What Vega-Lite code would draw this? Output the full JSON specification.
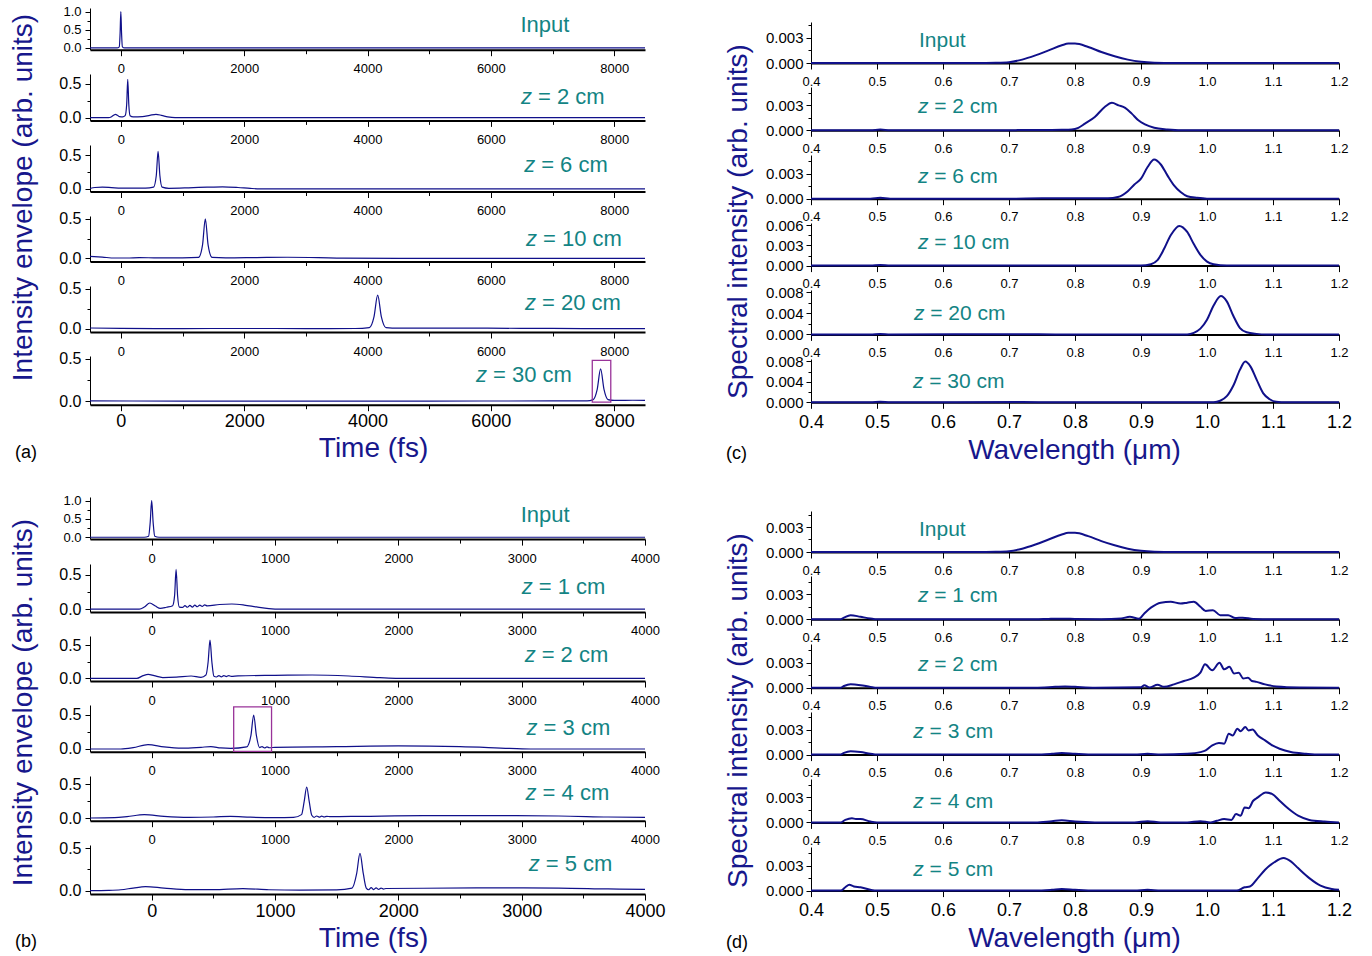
{
  "$schema": "https://vega.github.io/schema/vega-lite/v6.json",
  "padding": {"left": 8, "top": 5, "right": 5, "bottom": 2},
  "config": {
    "view": {"stroke": null},
    "font": "Liberation Sans",
    "axis": {"grid": false, "domainColor": "#000", "tickColor": "#000", "labelColor": "#000", "labelFont": "Liberation Sans", "titleFont": "Liberation Sans", "titleFontWeight": "normal", "titleColor": "#17178c", "titleFontSize": 28, "labelFlush": false, "labelOverlap": false, "tickWidth": 1},
    "axisX": {"domainWidth": 2, "labelPadding": 7, "labelFontSize": 13},
    "axisY": {"domainWidth": 1, "labelPadding": 4, "labelFontSize": 16, "tickSize": 5},
    "text": {"font": "Liberation Sans", "color": "#138484", "align": "left", "baseline": "middle", "fontSize": 22},
    "title": {"font": "Liberation Sans", "fontWeight": "normal", "fontSize": 18, "color": "#000"}
  },
  "datasets": {
    "a_in": [{"t":-500,"v":0},{"t":-60,"v":0},{"t":-25,"v":0.03},{"t":-12,"v":0.4},{"t":0,"v":1.0},{"t":12,"v":0.4},{"t":25,"v":0.03},{"t":60,"v":0},{"t":8500,"v":0}],
    "a_z2": [{"t":-500,"v":0},{"t":-200,"v":0},{"t":-150,"v":0.015},{"t":-110,"v":0.04},{"t":-85,"v":0.05},{"t":-55,"v":0.035},{"t":-20,"v":0.015},{"t":30,"v":0.012},{"t":70,"v":0.03},{"t":95,"v":0.2},{"t":112,"v":0.57},{"t":129,"v":0.2},{"t":150,"v":0.03},{"t":200,"v":0.012},{"t":350,"v":0.015},{"t":470,"v":0.035},{"t":570,"v":0.05},{"t":660,"v":0.035},{"t":760,"v":0.012},{"t":880,"v":0},{"t":8500,"v":0}],
    "a_z6": [{"t":-500,"v":0.005},{"t":-420,"v":0.02},{"t":-300,"v":0.025},{"t":-150,"v":0.018},{"t":0,"v":0.01},{"t":200,"v":0.012},{"t":400,"v":0.01},{"t":530,"v":0.025},{"t":575,"v":0.2},{"t":604,"v":0.56},{"t":633,"v":0.2},{"t":670,"v":0.025},{"t":780,"v":0.008},{"t":1100,"v":0.015},{"t":1400,"v":0.025},{"t":1650,"v":0.03},{"t":1900,"v":0.02},{"t":2100,"v":0.006},{"t":2250,"v":0},{"t":8500,"v":0}],
    "a_z10": [{"t":-500,"v":0.025},{"t":-300,"v":0.015},{"t":-100,"v":0.004},{"t":100,"v":0.004},{"t":300,"v":0.01},{"t":600,"v":0.005},{"t":1000,"v":0.006},{"t":1260,"v":0.012},{"t":1325,"v":0.17},{"t":1370,"v":0.5},{"t":1415,"v":0.17},{"t":1480,"v":0.012},{"t":1700,"v":0.006},{"t":2200,"v":0.01},{"t":2700,"v":0.014},{"t":3200,"v":0.01},{"t":3600,"v":0.003},{"t":4500,"v":0},{"t":8500,"v":0}],
    "a_z20": [{"t":-500,"v":0.01},{"t":0,"v":0.005},{"t":1000,"v":0.003},{"t":2000,"v":0.004},{"t":3000,"v":0.003},{"t":3800,"v":0.004},{"t":4030,"v":0.015},{"t":4105,"v":0.15},{"t":4165,"v":0.42},{"t":4225,"v":0.15},{"t":4300,"v":0.015},{"t":4500,"v":0.008},{"t":5500,"v":0.008},{"t":6500,"v":0.006},{"t":7500,"v":0.003},{"t":8500,"v":0.002}],
    "a_z30": [{"t":-500,"v":0.005},{"t":1000,"v":0.003},{"t":3000,"v":0.003},{"t":5000,"v":0.003},{"t":7000,"v":0.004},{"t":7560,"v":0.005},{"t":7660,"v":0.02},{"t":7725,"v":0.14},{"t":7780,"v":0.38},{"t":7835,"v":0.14},{"t":7900,"v":0.02},{"t":8000,"v":0.01},{"t":8300,"v":0.012},{"t":8500,"v":0.01}],
    "b_in": [{"t":-500,"v":0},{"t":-60,"v":0},{"t":-25,"v":0.03},{"t":-12,"v":0.4},{"t":0,"v":1.0},{"t":12,"v":0.4},{"t":25,"v":0.03},{"t":60,"v":0},{"t":4000,"v":0}],
    "b_z1": [{"t":-500,"v":0},{"t":-100,"v":0},{"t":-60,"v":0.03},{"t":-15,"v":0.09},{"t":30,"v":0.045},{"t":70,"v":0.012},{"t":120,"v":0.028},{"t":170,"v":0.05},{"t":186,"v":0.2},{"t":198,"v":0.58},{"t":210,"v":0.2},{"t":225,"v":0.03},{"t":250,"v":0.025},{"t":270,"v":0.05},{"t":290,"v":0.028},{"t":310,"v":0.055},{"t":330,"v":0.03},{"t":350,"v":0.058},{"t":370,"v":0.035},{"t":390,"v":0.06},{"t":410,"v":0.04},{"t":430,"v":0.062},{"t":450,"v":0.048},{"t":550,"v":0.068},{"t":650,"v":0.075},{"t":750,"v":0.06},{"t":850,"v":0.032},{"t":950,"v":0.008},{"t":1050,"v":0},{"t":4000,"v":0}],
    "b_z2": [{"t":-500,"v":0},{"t":-120,"v":0},{"t":-70,"v":0.04},{"t":-28,"v":0.06},{"t":20,"v":0.04},{"t":90,"v":0.012},{"t":200,"v":0.018},{"t":320,"v":0.035},{"t":400,"v":0.015},{"t":440,"v":0.05},{"t":458,"v":0.25},{"t":473,"v":0.575},{"t":488,"v":0.25},{"t":505,"v":0.03},{"t":525,"v":0.02},{"t":545,"v":0.04},{"t":565,"v":0.022},{"t":585,"v":0.042},{"t":605,"v":0.025},{"t":625,"v":0.042},{"t":645,"v":0.03},{"t":700,"v":0.038},{"t":1000,"v":0.045},{"t":1300,"v":0.05},{"t":1600,"v":0.035},{"t":1850,"v":0.01},{"t":2000,"v":0},{"t":4000,"v":0}],
    "b_z3": [{"t":-500,"v":0},{"t":-250,"v":0},{"t":-150,"v":0.02},{"t":-30,"v":0.065},{"t":100,"v":0.03},{"t":250,"v":0.012},{"t":400,"v":0.025},{"t":480,"v":0.034},{"t":560,"v":0.015},{"t":640,"v":0.008},{"t":770,"v":0.03},{"t":805,"v":0.2},{"t":827,"v":0.5},{"t":849,"v":0.2},{"t":875,"v":0.02},{"t":895,"v":0.035},{"t":915,"v":0.015},{"t":935,"v":0.03},{"t":955,"v":0.018},{"t":1000,"v":0.025},{"t":1500,"v":0.035},{"t":2000,"v":0.045},{"t":2500,"v":0.035},{"t":2900,"v":0.01},{"t":3100,"v":0},{"t":4000,"v":0}],
    "b_z4": [{"t":-500,"v":0},{"t":-300,"v":0.005},{"t":-200,"v":0.02},{"t":-60,"v":0.05},{"t":100,"v":0.025},{"t":300,"v":0.01},{"t":500,"v":0.015},{"t":640,"v":0.025},{"t":800,"v":0.012},{"t":1000,"v":0.005},{"t":1150,"v":0.008},{"t":1215,"v":0.05},{"t":1237,"v":0.25},{"t":1257,"v":0.46},{"t":1277,"v":0.25},{"t":1298,"v":0.04},{"t":1318,"v":0.01},{"t":1338,"v":0.03},{"t":1358,"v":0.012},{"t":1378,"v":0.028},{"t":1398,"v":0.015},{"t":1420,"v":0.025},{"t":1450,"v":0.02},{"t":1700,"v":0.025},{"t":2200,"v":0.035},{"t":2800,"v":0.035},{"t":3300,"v":0.03},{"t":3700,"v":0.015},{"t":4000,"v":0.008}],
    "b_z5": [{"t":-500,"v":0},{"t":-350,"v":0.003},{"t":-250,"v":0.01},{"t":-150,"v":0.03},{"t":-50,"v":0.047},{"t":100,"v":0.03},{"t":300,"v":0.012},{"t":500,"v":0.012},{"t":740,"v":0.024},{"t":950,"v":0.01},{"t":1200,"v":0.005},{"t":1500,"v":0.008},{"t":1625,"v":0.03},{"t":1662,"v":0.2},{"t":1689,"v":0.44},{"t":1716,"v":0.2},{"t":1740,"v":0.03},{"t":1760,"v":0.01},{"t":1780,"v":0.035},{"t":1800,"v":0.012},{"t":1820,"v":0.033},{"t":1840,"v":0.014},{"t":1860,"v":0.03},{"t":1880,"v":0.018},{"t":1900,"v":0.025},{"t":2200,"v":0.028},{"t":2800,"v":0.032},{"t":3300,"v":0.03},{"t":3700,"v":0.02},{"t":4000,"v":0.015}],
    "s_in": [{"w":0.4,"s":0},{"w":0.65,"s":0},{"w":0.68,"s":0.00003},{"w":0.7,"s":0.0001},{"w":0.72,"s":0.0004},{"w":0.74,"s":0.0009},{"w":0.76,"s":0.0015},{"w":0.78,"s":0.0021},{"w":0.79,"s":0.0023},{"w":0.8,"s":0.0023},{"w":0.82,"s":0.0019},{"w":0.84,"s":0.0013},{"w":0.86,"s":0.0008},{"w":0.88,"s":0.0004},{"w":0.9,"s":0.00015},{"w":0.92,"s":0.00004},{"w":0.95,"s":0},{"w":1.2,"s":0}],
    "c_z2": [{"w":0.4,"s":0},{"w":0.49,"s":0},{"w":0.505,"s":0.0001},{"w":0.52,"s":0},{"w":0.7,"s":0},{"w":0.72,"s":0.00004},{"w":0.75,"s":0.00003},{"w":0.78,"s":0.00006},{"w":0.795,"s":0.0001},{"w":0.805,"s":0.0003},{"w":0.815,"s":0.0008},{"w":0.83,"s":0.0016},{"w":0.845,"s":0.0028},{"w":0.856,"s":0.0033},{"w":0.866,"s":0.003},{"w":0.876,"s":0.0027},{"w":0.886,"s":0.002},{"w":0.896,"s":0.0012},{"w":0.906,"s":0.0007},{"w":0.92,"s":0.0003},{"w":0.94,"s":0.0001},{"w":0.96,"s":0},{"w":1.2,"s":0}],
    "c_z6": [{"w":0.4,"s":0},{"w":0.49,"s":0},{"w":0.505,"s":0.0001},{"w":0.52,"s":0},{"w":0.7,"s":0},{"w":0.75,"s":0.00004},{"w":0.85,"s":0.00005},{"w":0.865,"s":0.0002},{"w":0.88,"s":0.0009},{"w":0.89,"s":0.0017},{"w":0.9,"s":0.0024},{"w":0.91,"s":0.0038},{"w":0.92,"s":0.0047},{"w":0.93,"s":0.0041},{"w":0.94,"s":0.0028},{"w":0.95,"s":0.0016},{"w":0.96,"s":0.0008},{"w":0.97,"s":0.0003},{"w":0.985,"s":0.0001},{"w":1.0,"s":0},{"w":1.2,"s":0}],
    "c_z10": [{"w":0.4,"s":0},{"w":0.49,"s":0},{"w":0.505,"s":0.0001},{"w":0.52,"s":0},{"w":0.9,"s":0},{"w":0.915,"s":0.0002},{"w":0.925,"s":0.0008},{"w":0.935,"s":0.0025},{"w":0.945,"s":0.0045},{"w":0.958,"s":0.0059},{"w":0.97,"s":0.005},{"w":0.98,"s":0.0032},{"w":0.99,"s":0.0016},{"w":1.0,"s":0.0006},{"w":1.01,"s":0.0002},{"w":1.03,"s":0},{"w":1.2,"s":0}],
    "c_z20": [{"w":0.4,"s":0},{"w":0.49,"s":0},{"w":0.505,"s":0.0001},{"w":0.52,"s":0},{"w":0.72,"s":0.00004},{"w":0.77,"s":0},{"w":0.97,"s":0},{"w":0.98,"s":0.0003},{"w":0.99,"s":0.0011},{"w":1.0,"s":0.0028},{"w":1.01,"s":0.0055},{"w":1.021,"s":0.0073},{"w":1.03,"s":0.0063},{"w":1.04,"s":0.0035},{"w":1.05,"s":0.0012},{"w":1.06,"s":0.0004},{"w":1.075,"s":0.0001},{"w":1.09,"s":0},{"w":1.2,"s":0}],
    "c_z30": [{"w":0.4,"s":0},{"w":0.49,"s":0},{"w":0.505,"s":0.0001},{"w":0.52,"s":0},{"w":0.72,"s":0.00004},{"w":0.77,"s":0},{"w":1.01,"s":0},{"w":1.02,"s":0.0003},{"w":1.03,"s":0.0012},{"w":1.04,"s":0.0033},{"w":1.05,"s":0.0064},{"w":1.058,"s":0.008},{"w":1.066,"s":0.007},{"w":1.075,"s":0.0045},{"w":1.085,"s":0.0018},{"w":1.095,"s":0.0006},{"w":1.105,"s":0.0001},{"w":1.12,"s":0},{"w":1.2,"s":0}],
    "d_z1": [{"w":0.4,"s":0},{"w":0.445,"s":0},{"w":0.45,"s":0.0002},{"w":0.46,"s":0.0005},{"w":0.475,"s":0.0003},{"w":0.49,"s":0.0001},{"w":0.5,"s":0},{"w":0.74,"s":0},{"w":0.76,"s":0.00005},{"w":0.78,"s":0.00008},{"w":0.8,"s":0.00005},{"w":0.84,"s":0.00002},{"w":0.87,"s":0.0001},{"w":0.883,"s":0.0003},{"w":0.897,"s":0.00008},{"w":0.905,"s":0.0007},{"w":0.915,"s":0.0014},{"w":0.93,"s":0.002},{"w":0.945,"s":0.0021},{"w":0.96,"s":0.0019},{"w":0.97,"s":0.002},{"w":0.98,"s":0.0021},{"w":0.99,"s":0.0015},{"w":0.998,"s":0.001},{"w":1.009,"s":0.0011},{"w":1.02,"s":0.0005},{"w":1.032,"s":0.0005},{"w":1.043,"s":0.00015},{"w":1.054,"s":0.0002},{"w":1.07,"s":0.00005},{"w":1.1,"s":0},{"w":1.2,"s":0}],
    "d_z2": [{"w":0.4,"s":0},{"w":0.445,"s":0},{"w":0.45,"s":0.0002},{"w":0.46,"s":0.0004},{"w":0.475,"s":0.0003},{"w":0.49,"s":0.0001},{"w":0.5,"s":0},{"w":0.74,"s":0},{"w":0.77,"s":0.0001},{"w":0.785,"s":0.00015},{"w":0.8,"s":0.0001},{"w":0.83,"s":0},{"w":0.9,"s":0.00005},{"w":0.905,"s":0.0003},{"w":0.913,"s":0.00003},{"w":0.925,"s":0.00035},{"w":0.935,"s":0.0001},{"w":0.95,"s":0.0004},{"w":0.965,"s":0.0008},{"w":0.98,"s":0.0012},{"w":0.99,"s":0.0018},{"w":0.997,"s":0.0028},{"w":1.008,"s":0.0021},{"w":1.019,"s":0.003},{"w":1.026,"s":0.0022},{"w":1.034,"s":0.0025},{"w":1.041,"s":0.0017},{"w":1.048,"s":0.0018},{"w":1.055,"s":0.0011},{"w":1.062,"s":0.0012},{"w":1.068,"s":0.0008},{"w":1.075,"s":0.0007},{"w":1.088,"s":0.0004},{"w":1.105,"s":0.00015},{"w":1.14,"s":0.00003},{"w":1.2,"s":0}],
    "d_z3": [{"w":0.4,"s":0},{"w":0.445,"s":0},{"w":0.45,"s":0.0002},{"w":0.46,"s":0.0004},{"w":0.475,"s":0.0003},{"w":0.49,"s":0.0001},{"w":0.5,"s":0},{"w":0.74,"s":0},{"w":0.765,"s":0.0001},{"w":0.78,"s":0.0002},{"w":0.8,"s":0.0001},{"w":0.83,"s":0},{"w":0.89,"s":0},{"w":0.91,"s":0.0001},{"w":0.93,"s":0},{"w":0.97,"s":0.0001},{"w":0.99,"s":0.0003},{"w":0.998,"s":0.0005},{"w":1.008,"s":0.0011},{"w":1.018,"s":0.0014},{"w":1.026,"s":0.0013},{"w":1.033,"s":0.0025},{"w":1.039,"s":0.0023},{"w":1.046,"s":0.0031},{"w":1.051,"s":0.0028},{"w":1.058,"s":0.0033},{"w":1.063,"s":0.0029},{"w":1.069,"s":0.003},{"w":1.077,"s":0.0023},{"w":1.088,"s":0.0017},{"w":1.099,"s":0.0011},{"w":1.11,"s":0.0007},{"w":1.127,"s":0.0003},{"w":1.15,"s":0.0001},{"w":1.17,"s":0},{"w":1.2,"s":0}],
    "d_z4": [{"w":0.4,"s":0},{"w":0.445,"s":0},{"w":0.452,"s":0.0003},{"w":0.462,"s":0.0005},{"w":0.468,"s":0.0004},{"w":0.475,"s":0.0004},{"w":0.49,"s":0.0001},{"w":0.5,"s":0},{"w":0.74,"s":0},{"w":0.765,"s":0.00015},{"w":0.78,"s":0.00025},{"w":0.8,"s":0.0001},{"w":0.83,"s":0},{"w":0.89,"s":0},{"w":0.91,"s":0.00015},{"w":0.93,"s":0},{"w":0.97,"s":0},{"w":0.99,"s":0.00015},{"w":1.005,"s":0},{"w":1.015,"s":0.0002},{"w":1.026,"s":0.0004},{"w":1.037,"s":0.0003},{"w":1.044,"s":0.001},{"w":1.051,"s":0.0008},{"w":1.057,"s":0.0018},{"w":1.063,"s":0.0017},{"w":1.07,"s":0.0026},{"w":1.077,"s":0.003},{"w":1.089,"s":0.0036},{"w":1.099,"s":0.0034},{"w":1.11,"s":0.0026},{"w":1.124,"s":0.0016},{"w":1.138,"s":0.0008},{"w":1.155,"s":0.0003},{"w":1.178,"s":0.0001},{"w":1.2,"s":0}],
    "d_z5": [{"w":0.4,"s":0},{"w":0.445,"s":0},{"w":0.452,"s":0.0004},{"w":0.458,"s":0.0007},{"w":0.465,"s":0.0005},{"w":0.475,"s":0.0004},{"w":0.49,"s":0.0001},{"w":0.5,"s":0},{"w":0.74,"s":0},{"w":0.765,"s":0.0001},{"w":0.78,"s":0.0002},{"w":0.8,"s":0.0001},{"w":0.83,"s":0},{"w":0.89,"s":0},{"w":0.91,"s":0.0001},{"w":0.93,"s":0},{"w":1.045,"s":0},{"w":1.057,"s":0.0004},{"w":1.065,"s":0.0005},{"w":1.077,"s":0.0015},{"w":1.088,"s":0.0025},{"w":1.102,"s":0.0034},{"w":1.116,"s":0.0039},{"w":1.127,"s":0.0035},{"w":1.138,"s":0.0027},{"w":1.155,"s":0.0015},{"w":1.172,"s":0.0006},{"w":1.189,"s":0.0002},{"w":1.2,"s":0.0001}]
  },
  "hconcat": [
    {
      "spacing": 31,
      "vconcat": [
        {
          "title": {"text": "(a)", "orient": "bottom", "anchor": "start", "frame": "bounds", "offset": -19, "dx": 6},
          "bounds": "flush", "spacing": 24,
          "vconcat": [
            {"width": 555, "height": 41.7, "resolve": {"axis": {"y": "independent"}}, "layer": [
              {"data": {"name": "a_in"}, "mark": {"type": "line", "color": "#10108a", "strokeWidth": 1.2, "interpolate": "monotone"},
               "encoding": {
                 "x": {"field": "t", "type": "quantitative", "scale": {"domain": [-500, 8500], "nice": false, "zero": false}, "axis": {"values": [0,1000,2000,3000,4000,5000,6000,7000,8000], "format": "d", "labelExpr": "datum.value % 2000 === 0 ? datum.label : ''", "tickSize": {"condition": {"test": "datum.value % 2000 === 0", "value": 6}, "value": 4}, "title": null}},
                 "y": {"field": "v", "type": "quantitative", "scale": {"domain": [-0.05, 1.1], "nice": false, "zero": false}, "axis": {"values": [0,0.5,1], "format": ".1f", "labelFontSize": 13, "title": "Intensity envelope (arb. units)", "titleX": -53, "titleY": 189}}
               }},
              {"data": {"values": [{"label": "Input"}]}, "mark": {"type": "text"}, "encoding": {"x": {"datum": 6480}, "y": {"datum": 0.62, "axis": {"orient": "left", "values": [0.25,0.75], "labels": false, "domain": false, "tickSize": 3, "title": null}}, "text": {"field": "label"}}}
            ]},
            {"width": 555, "height": 46.4, "resolve": {"axis": {"y": "independent"}}, "layer": [
              {"data": {"name": "a_z2"}, "mark": {"type": "line", "color": "#10108a", "strokeWidth": 1.2, "interpolate": "monotone"},
               "encoding": {
                 "x": {"field": "t", "type": "quantitative", "scale": {"domain": [-500, 8500], "nice": false, "zero": false}, "axis": {"values": [0,1000,2000,3000,4000,5000,6000,7000,8000], "format": "d", "labelExpr": "datum.value % 2000 === 0 ? datum.label : ''", "tickSize": {"condition": {"test": "datum.value % 2000 === 0", "value": 6}, "value": 4}, "title": null}},
                 "y": {"field": "v", "type": "quantitative", "scale": {"domain": [-0.04, 0.648], "nice": false, "zero": false}, "axis": {"values": [0,0.5], "format": ".1f", "title": null}}
               }},
              {"data": {"values": [{"z": "z", "rest": "= 2 cm"}]}, "encoding": {"x": {"datum": 6490}, "y": {"datum": 0.31, "axis": {"orient": "left", "values": [0.25], "labels": false, "domain": false, "tickSize": 3, "title": null}}}, "layer": [
                {"mark": {"type": "text", "fontStyle": "italic"}, "encoding": {"text": {"field": "z"}}},
                {"mark": {"type": "text", "dx": 17}, "encoding": {"text": {"field": "rest"}}}
              ]}
            ]},
            {"width": 555, "height": 46.5, "resolve": {"axis": {"y": "independent"}}, "layer": [
              {"data": {"name": "a_z6"}, "mark": {"type": "line", "color": "#10108a", "strokeWidth": 1.2, "interpolate": "monotone"},
               "encoding": {
                 "x": {"field": "t", "type": "quantitative", "scale": {"domain": [-500, 8500], "nice": false, "zero": false}, "axis": {"values": [0,1000,2000,3000,4000,5000,6000,7000,8000], "format": "d", "labelExpr": "datum.value % 2000 === 0 ? datum.label : ''", "tickSize": {"condition": {"test": "datum.value % 2000 === 0", "value": 6}, "value": 4}, "title": null}},
                 "y": {"field": "v", "type": "quantitative", "scale": {"domain": [-0.04, 0.656], "nice": false, "zero": false}, "axis": {"values": [0,0.5], "format": ".1f", "title": null}}
               }},
              {"data": {"values": [{"z": "z", "rest": "= 6 cm"}]}, "encoding": {"x": {"datum": 6540}, "y": {"datum": 0.35, "axis": {"orient": "left", "values": [0.25], "labels": false, "domain": false, "tickSize": 3, "title": null}}}, "layer": [
                {"mark": {"type": "text", "fontStyle": "italic"}, "encoding": {"text": {"field": "z"}}},
                {"mark": {"type": "text", "dx": 17}, "encoding": {"text": {"field": "rest"}}}
              ]}
            ]},
            {"width": 555, "height": 45.5, "resolve": {"axis": {"y": "independent"}}, "layer": [
              {"data": {"name": "a_z10"}, "mark": {"type": "line", "color": "#10108a", "strokeWidth": 1.2, "interpolate": "monotone"},
               "encoding": {
                 "x": {"field": "t", "type": "quantitative", "scale": {"domain": [-500, 8500], "nice": false, "zero": false}, "axis": {"values": [0,1000,2000,3000,4000,5000,6000,7000,8000], "format": "d", "labelExpr": "datum.value % 2000 === 0 ? datum.label : ''", "tickSize": {"condition": {"test": "datum.value % 2000 === 0", "value": 6}, "value": 4}, "title": null}},
                 "y": {"field": "v", "type": "quantitative", "scale": {"domain": [-0.04, 0.536], "nice": false, "zero": false}, "axis": {"values": [0,0.5], "format": ".1f", "title": null}}
               }},
              {"data": {"values": [{"z": "z", "rest": "= 10 cm"}]}, "encoding": {"x": {"datum": 6570}, "y": {"datum": 0.25, "axis": {"orient": "left", "values": [0.25], "labels": false, "domain": false, "tickSize": 3, "title": null}}}, "layer": [
                {"mark": {"type": "text", "fontStyle": "italic"}, "encoding": {"text": {"field": "z"}}},
                {"mark": {"type": "text", "dx": 17}, "encoding": {"text": {"field": "rest"}}}
              ]}
            ]},
            {"width": 555, "height": 46, "resolve": {"axis": {"y": "independent"}}, "layer": [
              {"data": {"name": "a_z20"}, "mark": {"type": "line", "color": "#10108a", "strokeWidth": 1.2, "interpolate": "monotone"},
               "encoding": {
                 "x": {"field": "t", "type": "quantitative", "scale": {"domain": [-500, 8500], "nice": false, "zero": false}, "axis": {"values": [0,1000,2000,3000,4000,5000,6000,7000,8000], "format": "d", "labelExpr": "datum.value % 2000 === 0 ? datum.label : ''", "tickSize": {"condition": {"test": "datum.value % 2000 === 0", "value": 6}, "value": 4}, "title": null}},
                 "y": {"field": "v", "type": "quantitative", "scale": {"domain": [-0.04, 0.535], "nice": false, "zero": false}, "axis": {"values": [0,0.5], "format": ".1f", "title": null}}
               }},
              {"data": {"values": [{"z": "z", "rest": "= 20 cm"}]}, "encoding": {"x": {"datum": 6555}, "y": {"datum": 0.32, "axis": {"orient": "left", "values": [0.25], "labels": false, "domain": false, "tickSize": 3, "title": null}}}, "layer": [
                {"mark": {"type": "text", "fontStyle": "italic"}, "encoding": {"text": {"field": "z"}}},
                {"mark": {"type": "text", "dx": 17}, "encoding": {"text": {"field": "rest"}}}
              ]}
            ]},
            {"width": 555, "height": 48.7, "resolve": {"axis": {"y": "independent"}}, "layer": [
              {"data": {"name": "a_z30"}, "mark": {"type": "line", "color": "#10108a", "strokeWidth": 1.2, "interpolate": "monotone"},
               "encoding": {
                 "x": {"field": "t", "type": "quantitative", "scale": {"domain": [-500, 8500], "nice": false, "zero": false}, "axis": {"values": [0,1000,2000,3000,4000,5000,6000,7000,8000], "format": "d", "labelExpr": "datum.value % 2000 === 0 ? datum.label : ''", "tickSize": {"condition": {"test": "datum.value % 2000 === 0", "value": 6}, "value": 4}, "labelFontSize": 18, "labelPadding": 2, "title": "Time (fs)", "titleX": 283, "titleY": 30}},
                 "y": {"field": "v", "type": "quantitative", "scale": {"domain": [-0.04, 0.532], "nice": false, "zero": false}, "axis": {"values": [0,0.5], "format": ".1f", "title": null}}
               }},
              {"data": {"values": [{"z": "z", "rest": "= 30 cm"}]}, "encoding": {"x": {"datum": 5760}, "y": {"datum": 0.305, "axis": {"orient": "left", "values": [0.25], "labels": false, "domain": false, "tickSize": 3, "title": null}}}, "layer": [
                {"mark": {"type": "text", "fontStyle": "italic"}, "encoding": {"text": {"field": "z"}}},
                {"mark": {"type": "text", "dx": 17}, "encoding": {"text": {"field": "rest"}}}
              ]},
              {"data": {"values": [{"box": "zoom"}]}, "mark": {"type": "rect", "filled": false, "color": "#993399", "strokeWidth": 1.3}, "encoding": {"x": {"datum": 7645}, "x2": {"datum": 7945}, "y": {"datum": -0.01, "axis": null}, "y2": {"datum": 0.48}}}
            ]}
          ]
        },
        {
          "title": {"text": "(b)", "orient": "bottom", "anchor": "start", "frame": "bounds", "offset": -19, "dx": 6},
          "bounds": "flush", "spacing": 24,
          "vconcat": [
            {"width": 555, "height": 42.1, "resolve": {"axis": {"y": "independent"}}, "layer": [
              {"data": {"name": "b_in"}, "mark": {"type": "line", "color": "#10108a", "strokeWidth": 1.2, "interpolate": "monotone"},
               "encoding": {
                 "x": {"field": "t", "type": "quantitative", "scale": {"domain": [-500, 4000], "nice": false, "zero": false}, "axis": {"values": [0,500,1000,1500,2000,2500,3000,3500,4000], "format": "d", "labelExpr": "datum.value % 1000 === 0 ? datum.label : ''", "tickSize": {"condition": {"test": "datum.value % 1000 === 0", "value": 6}, "value": 4}, "title": null}},
                 "y": {"field": "v", "type": "quantitative", "scale": {"domain": [-0.05, 1.1], "nice": false, "zero": false}, "axis": {"values": [0,0.5,1], "format": ".1f", "labelFontSize": 13, "title": "Intensity envelope (arb. units)", "titleX": -53, "titleY": 205}}
               }},
              {"data": {"values": [{"label": "Input"}]}, "mark": {"type": "text"}, "encoding": {"x": {"datum": 2992}, "y": {"datum": 0.61, "axis": {"orient": "left", "values": [0.25,0.75], "labels": false, "domain": false, "tickSize": 3, "title": null}}, "text": {"field": "label"}}}
            ]},
            {"width": 555, "height": 47.9, "resolve": {"axis": {"y": "independent"}}, "layer": [
              {"data": {"name": "b_z1"}, "mark": {"type": "line", "color": "#10108a", "strokeWidth": 1.2, "interpolate": "monotone"},
               "encoding": {
                 "x": {"field": "t", "type": "quantitative", "scale": {"domain": [-500, 4000], "nice": false, "zero": false}, "axis": {"values": [0,500,1000,1500,2000,2500,3000,3500,4000], "format": "d", "labelExpr": "datum.value % 1000 === 0 ? datum.label : ''", "tickSize": {"condition": {"test": "datum.value % 1000 === 0", "value": 6}, "value": 4}, "title": null}},
                 "y": {"field": "v", "type": "quantitative", "scale": {"domain": [-0.04, 0.658], "nice": false, "zero": false}, "axis": {"values": [0,0.5], "format": ".1f", "title": null}}
               }},
              {"data": {"values": [{"z": "z", "rest": "= 1 cm"}]}, "encoding": {"x": {"datum": 3000}, "y": {"datum": 0.325, "axis": {"orient": "left", "values": [0.25], "labels": false, "domain": false, "tickSize": 3, "title": null}}}, "layer": [
                {"mark": {"type": "text", "fontStyle": "italic"}, "encoding": {"text": {"field": "z"}}},
                {"mark": {"type": "text", "dx": 17}, "encoding": {"text": {"field": "rest"}}}
              ]}
            ]},
            {"width": 555, "height": 45, "resolve": {"axis": {"y": "independent"}}, "layer": [
              {"data": {"name": "b_z2"}, "mark": {"type": "line", "color": "#10108a", "strokeWidth": 1.2, "interpolate": "monotone"},
               "encoding": {
                 "x": {"field": "t", "type": "quantitative", "scale": {"domain": [-500, 4000], "nice": false, "zero": false}, "axis": {"values": [0,500,1000,1500,2000,2500,3000,3500,4000], "format": "d", "labelExpr": "datum.value % 1000 === 0 ? datum.label : ''", "tickSize": {"condition": {"test": "datum.value % 1000 === 0", "value": 6}, "value": 4}, "title": null}},
                 "y": {"field": "v", "type": "quantitative", "scale": {"domain": [-0.04, 0.636], "nice": false, "zero": false}, "axis": {"values": [0,0.5], "format": ".1f", "title": null}}
               }},
              {"data": {"values": [{"z": "z", "rest": "= 2 cm"}]}, "encoding": {"x": {"datum": 3024}, "y": {"datum": 0.35, "axis": {"orient": "left", "values": [0.25], "labels": false, "domain": false, "tickSize": 3, "title": null}}}, "layer": [
                {"mark": {"type": "text", "fontStyle": "italic"}, "encoding": {"text": {"field": "z"}}},
                {"mark": {"type": "text", "dx": 17}, "encoding": {"text": {"field": "rest"}}}
              ]}
            ]},
            {"width": 555, "height": 46.7, "resolve": {"axis": {"y": "independent"}}, "layer": [
              {"data": {"name": "b_z3"}, "mark": {"type": "line", "color": "#10108a", "strokeWidth": 1.2, "interpolate": "monotone"},
               "encoding": {
                 "x": {"field": "t", "type": "quantitative", "scale": {"domain": [-500, 4000], "nice": false, "zero": false}, "axis": {"values": [0,500,1000,1500,2000,2500,3000,3500,4000], "format": "d", "labelExpr": "datum.value % 1000 === 0 ? datum.label : ''", "tickSize": {"condition": {"test": "datum.value % 1000 === 0", "value": 6}, "value": 4}, "title": null}},
                 "y": {"field": "v", "type": "quantitative", "scale": {"domain": [-0.04, 0.647], "nice": false, "zero": false}, "axis": {"values": [0,0.5], "format": ".1f", "title": null}}
               }},
              {"data": {"values": [{"z": "z", "rest": "= 3 cm"}]}, "encoding": {"x": {"datum": 3040}, "y": {"datum": 0.31, "axis": {"orient": "left", "values": [0.25], "labels": false, "domain": false, "tickSize": 3, "title": null}}}, "layer": [
                {"mark": {"type": "text", "fontStyle": "italic"}, "encoding": {"text": {"field": "z"}}},
                {"mark": {"type": "text", "dx": 17}, "encoding": {"text": {"field": "rest"}}}
              ]},
              {"data": {"values": [{"box": "zoom"}]}, "mark": {"type": "rect", "filled": false, "color": "#993399", "strokeWidth": 1.3}, "encoding": {"x": {"datum": 665}, "x2": {"datum": 972}, "y": {"datum": -0.035, "axis": null}, "y2": {"datum": 0.62}}}
            ]},
            {"width": 555, "height": 44.7, "resolve": {"axis": {"y": "independent"}}, "layer": [
              {"data": {"name": "b_z4"}, "mark": {"type": "line", "color": "#10108a", "strokeWidth": 1.2, "interpolate": "monotone"},
               "encoding": {
                 "x": {"field": "t", "type": "quantitative", "scale": {"domain": [-500, 4000], "nice": false, "zero": false}, "axis": {"values": [0,500,1000,1500,2000,2500,3000,3500,4000], "format": "d", "labelExpr": "datum.value % 1000 === 0 ? datum.label : ''", "tickSize": {"condition": {"test": "datum.value % 1000 === 0", "value": 6}, "value": 4}, "title": null}},
                 "y": {"field": "v", "type": "quantitative", "scale": {"domain": [-0.04, 0.623], "nice": false, "zero": false}, "axis": {"values": [0,0.5], "format": ".1f", "title": null}}
               }},
              {"data": {"values": [{"z": "z", "rest": "= 4 cm"}]}, "encoding": {"x": {"datum": 3032}, "y": {"datum": 0.37, "axis": {"orient": "left", "values": [0.25], "labels": false, "domain": false, "tickSize": 3, "title": null}}}, "layer": [
                {"mark": {"type": "text", "fontStyle": "italic"}, "encoding": {"text": {"field": "z"}}},
                {"mark": {"type": "text", "dx": 17}, "encoding": {"text": {"field": "rest"}}}
              ]}
            ]},
            {"width": 555, "height": 49, "resolve": {"axis": {"y": "independent"}}, "layer": [
              {"data": {"name": "b_z5"}, "mark": {"type": "line", "color": "#10108a", "strokeWidth": 1.2, "interpolate": "monotone"},
               "encoding": {
                 "x": {"field": "t", "type": "quantitative", "scale": {"domain": [-500, 4000], "nice": false, "zero": false}, "axis": {"values": [0,500,1000,1500,2000,2500,3000,3500,4000], "format": "d", "labelExpr": "datum.value % 1000 === 0 ? datum.label : ''", "tickSize": {"condition": {"test": "datum.value % 1000 === 0", "value": 6}, "value": 4}, "labelFontSize": 18, "labelPadding": 2, "title": "Time (fs)", "titleX": 283, "titleY": 30}},
                 "y": {"field": "v", "type": "quantitative", "scale": {"domain": [-0.04, 0.539], "nice": false, "zero": false}, "axis": {"values": [0,0.5], "format": ".1f", "title": null}}
               }},
              {"data": {"values": [{"z": "z", "rest": "= 5 cm"}]}, "encoding": {"x": {"datum": 3057}, "y": {"datum": 0.31, "axis": {"orient": "left", "values": [0.25], "labels": false, "domain": false, "tickSize": 3, "title": null}}}, "layer": [
                {"mark": {"type": "text", "fontStyle": "italic"}, "encoding": {"text": {"field": "z"}}},
                {"mark": {"type": "text", "dx": 17}, "encoding": {"text": {"field": "rest"}}}
              ]}
            ]}
          ]
        }
      ]
    },
    {
      "spacing": 13,
      "vconcat": [
        {"width": 528, "height": 1, "data": {"values": []}, "mark": {"type": "point"}},
        {
          "spacing": 46,
          "vconcat": [
            {
              "title": {"text": "(c)", "orient": "bottom", "anchor": "start", "frame": "bounds", "offset": -19, "dx": 2},
              "bounds": "flush", "spacing": 24,
              "vconcat": [
                {"width": 528, "height": 41, "resolve": {"axis": {"y": "independent"}}, "layer": [
                  {"data": {"name": "s_in"}, "mark": {"type": "line", "color": "#10108a", "strokeWidth": 2, "interpolate": "monotone"},
                   "encoding": {
                     "x": {"field": "w", "type": "quantitative", "scale": {"domain": [0.4, 1.2], "nice": false, "zero": false}, "axis": {"values": [0.4,0.45,0.5,0.55,0.6,0.65,0.7,0.75,0.8,0.85,0.9,0.95,1.0,1.05,1.1,1.15,1.2], "format": ".1f", "labelPadding": 6, "labelExpr": "abs(datum.value*10 - round(datum.value*10)) < 0.01 ? datum.label : ''", "tickSize": {"condition": {"test": "abs(datum.value*10 - round(datum.value*10)) < 0.01", "value": 6}, "value": 4}, "title": null}},
                     "y": {"field": "s", "type": "quantitative", "scale": {"domain": [0, 0.00486], "nice": false, "zero": false}, "axis": {"values": [0,0.003], "format": ".3f", "labelFontSize": 15, "labelPadding": 3, "title": "Spectral intensity (arb. units)", "titleX": -59, "titleY": 199}}
                   }},
                  {"data": {"values": [{"label": "Input"}]}, "mark": {"type": "text", "fontSize": 21}, "encoding": {"x": {"datum": 0.5636}, "y": {"datum": 0.00257, "axis": {"orient": "left", "values": [0.0015,0.0045], "labels": false, "domain": false, "tickSize": 3, "title": null}}, "text": {"field": "label"}}}
                ]},
                {"width": 528, "height": 43.3, "resolve": {"axis": {"y": "independent"}}, "layer": [
                  {"data": {"name": "c_z2"}, "mark": {"type": "line", "color": "#10108a", "strokeWidth": 2, "interpolate": "monotone"},
                   "encoding": {
                     "x": {"field": "w", "type": "quantitative", "scale": {"domain": [0.4, 1.2], "nice": false, "zero": false}, "axis": {"values": [0.4,0.45,0.5,0.55,0.6,0.65,0.7,0.75,0.8,0.85,0.9,0.95,1.0,1.05,1.1,1.15,1.2], "format": ".1f", "labelPadding": 6, "labelExpr": "abs(datum.value*10 - round(datum.value*10)) < 0.01 ? datum.label : ''", "tickSize": {"condition": {"test": "abs(datum.value*10 - round(datum.value*10)) < 0.01", "value": 6}, "value": 4}, "title": null}},
                     "y": {"field": "s", "type": "quantitative", "scale": {"domain": [0, 0.0052], "nice": false, "zero": false}, "axis": {"values": [0,0.003], "format": ".3f", "labelFontSize": 15, "labelPadding": 3, "title": null}}
                   }},
                  {"data": {"values": [{"z": "z", "rest": "= 2 cm"}]}, "encoding": {"x": {"datum": 0.562}, "y": {"datum": 0.00276, "axis": {"orient": "left", "values": [0.0015,0.0045], "labels": false, "domain": false, "tickSize": 3, "title": null}}}, "layer": [
                    {"mark": {"type": "text", "fontStyle": "italic", "fontSize": 21}, "encoding": {"text": {"field": "z"}}},
                    {"mark": {"type": "text", "dx": 16.3, "fontSize": 21}, "encoding": {"text": {"field": "rest"}}}
                  ]}
                ]},
                {"width": 528, "height": 43.7, "resolve": {"axis": {"y": "independent"}}, "layer": [
                  {"data": {"name": "c_z6"}, "mark": {"type": "line", "color": "#10108a", "strokeWidth": 2, "interpolate": "monotone"},
                   "encoding": {
                     "x": {"field": "w", "type": "quantitative", "scale": {"domain": [0.4, 1.2], "nice": false, "zero": false}, "axis": {"values": [0.4,0.45,0.5,0.55,0.6,0.65,0.7,0.75,0.8,0.85,0.9,0.95,1.0,1.05,1.1,1.15,1.2], "format": ".1f", "labelPadding": 6, "labelExpr": "abs(datum.value*10 - round(datum.value*10)) < 0.01 ? datum.label : ''", "tickSize": {"condition": {"test": "abs(datum.value*10 - round(datum.value*10)) < 0.01", "value": 6}, "value": 4}, "title": null}},
                     "y": {"field": "s", "type": "quantitative", "scale": {"domain": [0, 0.00524], "nice": false, "zero": false}, "axis": {"values": [0,0.003], "format": ".3f", "labelFontSize": 15, "labelPadding": 3, "title": null}}
                   }},
                  {"data": {"values": [{"z": "z", "rest": "= 6 cm"}]}, "encoding": {"x": {"datum": 0.562}, "y": {"datum": 0.0026, "axis": {"orient": "left", "values": [0.0015,0.0045], "labels": false, "domain": false, "tickSize": 3, "title": null}}}, "layer": [
                    {"mark": {"type": "text", "fontStyle": "italic", "fontSize": 21}, "encoding": {"text": {"field": "z"}}},
                    {"mark": {"type": "text", "dx": 16.3, "fontSize": 21}, "encoding": {"text": {"field": "rest"}}}
                  ]}
                ]},
                {"width": 528, "height": 42.6, "resolve": {"axis": {"y": "independent"}}, "layer": [
                  {"data": {"name": "c_z10"}, "mark": {"type": "line", "color": "#10108a", "strokeWidth": 2, "interpolate": "monotone"},
                   "encoding": {
                     "x": {"field": "w", "type": "quantitative", "scale": {"domain": [0.4, 1.2], "nice": false, "zero": false}, "axis": {"values": [0.4,0.45,0.5,0.55,0.6,0.65,0.7,0.75,0.8,0.85,0.9,0.95,1.0,1.05,1.1,1.15,1.2], "format": ".1f", "labelPadding": 6, "labelExpr": "abs(datum.value*10 - round(datum.value*10)) < 0.01 ? datum.label : ''", "tickSize": {"condition": {"test": "abs(datum.value*10 - round(datum.value*10)) < 0.01", "value": 6}, "value": 4}, "title": null}},
                     "y": {"field": "s", "type": "quantitative", "scale": {"domain": [0, 0.00633], "nice": false, "zero": false}, "axis": {"values": [0,0.003,0.006], "format": ".3f", "labelFontSize": 15, "labelPadding": 3, "title": null}}
                   }},
                  {"data": {"values": [{"z": "z", "rest": "= 10 cm"}]}, "encoding": {"x": {"datum": 0.562}, "y": {"datum": 0.0033, "axis": {"orient": "left", "values": [0.0015,0.0045], "labels": false, "domain": false, "tickSize": 3, "title": null}}}, "layer": [
                    {"mark": {"type": "text", "fontStyle": "italic", "fontSize": 21}, "encoding": {"text": {"field": "z"}}},
                    {"mark": {"type": "text", "dx": 16.3, "fontSize": 21}, "encoding": {"text": {"field": "rest"}}}
                  ]}
                ]},
                {"width": 528, "height": 44.4, "resolve": {"axis": {"y": "independent"}}, "layer": [
                  {"data": {"name": "c_z20"}, "mark": {"type": "line", "color": "#10108a", "strokeWidth": 2, "interpolate": "monotone"},
                   "encoding": {
                     "x": {"field": "w", "type": "quantitative", "scale": {"domain": [0.4, 1.2], "nice": false, "zero": false}, "axis": {"values": [0.4,0.45,0.5,0.55,0.6,0.65,0.7,0.75,0.8,0.85,0.9,0.95,1.0,1.05,1.1,1.15,1.2], "format": ".1f", "labelPadding": 6, "labelExpr": "abs(datum.value*10 - round(datum.value*10)) < 0.01 ? datum.label : ''", "tickSize": {"condition": {"test": "abs(datum.value*10 - round(datum.value*10)) < 0.01", "value": 6}, "value": 4}, "title": null}},
                     "y": {"field": "s", "type": "quantitative", "scale": {"domain": [0, 0.00846], "nice": false, "zero": false}, "axis": {"values": [0,0.004,0.008], "format": ".3f", "labelFontSize": 15, "labelPadding": 3, "title": null}}
                   }},
                  {"data": {"values": [{"z": "z", "rest": "= 20 cm"}]}, "encoding": {"x": {"datum": 0.556}, "y": {"datum": 0.0039, "axis": {"orient": "left", "values": [0.002,0.006], "labels": false, "domain": false, "tickSize": 3, "title": null}}}, "layer": [
                    {"mark": {"type": "text", "fontStyle": "italic", "fontSize": 21}, "encoding": {"text": {"field": "z"}}},
                    {"mark": {"type": "text", "dx": 16.3, "fontSize": 21}, "encoding": {"text": {"field": "rest"}}}
                  ]}
                ]},
                {"width": 528, "height": 43.3, "resolve": {"axis": {"y": "independent"}}, "layer": [
                  {"data": {"name": "c_z30"}, "mark": {"type": "line", "color": "#10108a", "strokeWidth": 2, "interpolate": "monotone"},
                   "encoding": {
                     "x": {"field": "w", "type": "quantitative", "scale": {"domain": [0.4, 1.2], "nice": false, "zero": false}, "axis": {"values": [0.4,0.45,0.5,0.55,0.6,0.65,0.7,0.75,0.8,0.85,0.9,0.95,1.0,1.05,1.1,1.15,1.2], "format": ".1f", "labelExpr": "abs(datum.value*10 - round(datum.value*10)) < 0.01 ? datum.label : ''", "tickSize": {"condition": {"test": "abs(datum.value*10 - round(datum.value*10)) < 0.01", "value": 6}, "value": 4}, "labelFontSize": 18, "labelPadding": 5, "title": "Wavelength (μm)", "titleX": 263, "titleY": 34}},
                     "y": {"field": "s", "type": "quantitative", "scale": {"domain": [0, 0.00849], "nice": false, "zero": false}, "axis": {"values": [0,0.004,0.008], "format": ".3f", "labelFontSize": 15, "labelPadding": 3, "title": null}}
                   }},
                  {"data": {"values": [{"z": "z", "rest": "= 30 cm"}]}, "encoding": {"x": {"datum": 0.5545}, "y": {"datum": 0.0039, "axis": {"orient": "left", "values": [0.002,0.006], "labels": false, "domain": false, "tickSize": 3, "title": null}}}, "layer": [
                    {"mark": {"type": "text", "fontStyle": "italic", "fontSize": 21}, "encoding": {"text": {"field": "z"}}},
                    {"mark": {"type": "text", "dx": 16.3, "fontSize": 21}, "encoding": {"text": {"field": "rest"}}}
                  ]}
                ]}
              ]
            },
            {
              "title": {"text": "(d)", "orient": "bottom", "anchor": "start", "frame": "bounds", "offset": -19, "dx": 2},
              "bounds": "flush", "spacing": 24,
              "vconcat": [
                {"width": 528, "height": 41, "resolve": {"axis": {"y": "independent"}}, "layer": [
                  {"data": {"name": "s_in"}, "mark": {"type": "line", "color": "#10108a", "strokeWidth": 2, "interpolate": "monotone"},
                   "encoding": {
                     "x": {"field": "w", "type": "quantitative", "scale": {"domain": [0.4, 1.2], "nice": false, "zero": false}, "axis": {"values": [0.4,0.45,0.5,0.55,0.6,0.65,0.7,0.75,0.8,0.85,0.9,0.95,1.0,1.05,1.1,1.15,1.2], "format": ".1f", "labelPadding": 6, "labelExpr": "abs(datum.value*10 - round(datum.value*10)) < 0.01 ? datum.label : ''", "tickSize": {"condition": {"test": "abs(datum.value*10 - round(datum.value*10)) < 0.01", "value": 6}, "value": 4}, "title": null}},
                     "y": {"field": "s", "type": "quantitative", "scale": {"domain": [0, 0.00492], "nice": false, "zero": false}, "axis": {"values": [0,0.003], "format": ".3f", "labelFontSize": 15, "labelPadding": 3, "title": "Spectral intensity (arb. units)", "titleX": -59, "titleY": 199}}
                   }},
                  {"data": {"values": [{"label": "Input"}]}, "mark": {"type": "text", "fontSize": 21}, "encoding": {"x": {"datum": 0.5636}, "y": {"datum": 0.0026, "axis": {"orient": "left", "values": [0.0015,0.0045], "labels": false, "domain": false, "tickSize": 3, "title": null}}, "text": {"field": "label"}}}
                ]},
                {"width": 528, "height": 43.3, "resolve": {"axis": {"y": "independent"}}, "layer": [
                  {"data": {"name": "d_z1"}, "mark": {"type": "line", "color": "#10108a", "strokeWidth": 2, "interpolate": "monotone"},
                   "encoding": {
                     "x": {"field": "w", "type": "quantitative", "scale": {"domain": [0.4, 1.2], "nice": false, "zero": false}, "axis": {"values": [0.4,0.45,0.5,0.55,0.6,0.65,0.7,0.75,0.8,0.85,0.9,0.95,1.0,1.05,1.1,1.15,1.2], "format": ".1f", "labelPadding": 6, "labelExpr": "abs(datum.value*10 - round(datum.value*10)) < 0.01 ? datum.label : ''", "tickSize": {"condition": {"test": "abs(datum.value*10 - round(datum.value*10)) < 0.01", "value": 6}, "value": 4}, "title": null}},
                     "y": {"field": "s", "type": "quantitative", "scale": {"domain": [0, 0.0052], "nice": false, "zero": false}, "axis": {"values": [0,0.003], "format": ".3f", "labelFontSize": 15, "labelPadding": 3, "title": null}}
                   }},
                  {"data": {"values": [{"z": "z", "rest": "= 1 cm"}]}, "encoding": {"x": {"datum": 0.562}, "y": {"datum": 0.00276, "axis": {"orient": "left", "values": [0.0015,0.0045], "labels": false, "domain": false, "tickSize": 3, "title": null}}}, "layer": [
                    {"mark": {"type": "text", "fontStyle": "italic", "fontSize": 21}, "encoding": {"text": {"field": "z"}}},
                    {"mark": {"type": "text", "dx": 16.3, "fontSize": 21}, "encoding": {"text": {"field": "rest"}}}
                  ]}
                ]},
                {"width": 528, "height": 43.7, "resolve": {"axis": {"y": "independent"}}, "layer": [
                  {"data": {"name": "d_z2"}, "mark": {"type": "line", "color": "#10108a", "strokeWidth": 2, "interpolate": "monotone"},
                   "encoding": {
                     "x": {"field": "w", "type": "quantitative", "scale": {"domain": [0.4, 1.2], "nice": false, "zero": false}, "axis": {"values": [0.4,0.45,0.5,0.55,0.6,0.65,0.7,0.75,0.8,0.85,0.9,0.95,1.0,1.05,1.1,1.15,1.2], "format": ".1f", "labelPadding": 6, "labelExpr": "abs(datum.value*10 - round(datum.value*10)) < 0.01 ? datum.label : ''", "tickSize": {"condition": {"test": "abs(datum.value*10 - round(datum.value*10)) < 0.01", "value": 6}, "value": 4}, "title": null}},
                     "y": {"field": "s", "type": "quantitative", "scale": {"domain": [0, 0.00524], "nice": false, "zero": false}, "axis": {"values": [0,0.003], "format": ".3f", "labelFontSize": 15, "labelPadding": 3, "title": null}}
                   }},
                  {"data": {"values": [{"z": "z", "rest": "= 2 cm"}]}, "encoding": {"x": {"datum": 0.562}, "y": {"datum": 0.0027, "axis": {"orient": "left", "values": [0.0015,0.0045], "labels": false, "domain": false, "tickSize": 3, "title": null}}}, "layer": [
                    {"mark": {"type": "text", "fontStyle": "italic", "fontSize": 21}, "encoding": {"text": {"field": "z"}}},
                    {"mark": {"type": "text", "dx": 16.3, "fontSize": 21}, "encoding": {"text": {"field": "rest"}}}
                  ]}
                ]},
                {"width": 528, "height": 42.6, "resolve": {"axis": {"y": "independent"}}, "layer": [
                  {"data": {"name": "d_z3"}, "mark": {"type": "line", "color": "#10108a", "strokeWidth": 2, "interpolate": "monotone"},
                   "encoding": {
                     "x": {"field": "w", "type": "quantitative", "scale": {"domain": [0.4, 1.2], "nice": false, "zero": false}, "axis": {"values": [0.4,0.45,0.5,0.55,0.6,0.65,0.7,0.75,0.8,0.85,0.9,0.95,1.0,1.05,1.1,1.15,1.2], "format": ".1f", "labelPadding": 6, "labelExpr": "abs(datum.value*10 - round(datum.value*10)) < 0.01 ? datum.label : ''", "tickSize": {"condition": {"test": "abs(datum.value*10 - round(datum.value*10)) < 0.01", "value": 6}, "value": 4}, "title": null}},
                     "y": {"field": "s", "type": "quantitative", "scale": {"domain": [0, 0.00511], "nice": false, "zero": false}, "axis": {"values": [0,0.003], "format": ".3f", "labelFontSize": 15, "labelPadding": 3, "title": null}}
                   }},
                  {"data": {"values": [{"z": "z", "rest": "= 3 cm"}]}, "encoding": {"x": {"datum": 0.555}, "y": {"datum": 0.00268, "axis": {"orient": "left", "values": [0.0015,0.0045], "labels": false, "domain": false, "tickSize": 3, "title": null}}}, "layer": [
                    {"mark": {"type": "text", "fontStyle": "italic", "fontSize": 21}, "encoding": {"text": {"field": "z"}}},
                    {"mark": {"type": "text", "dx": 16.3, "fontSize": 21}, "encoding": {"text": {"field": "rest"}}}
                  ]}
                ]},
                {"width": 528, "height": 43.4, "resolve": {"axis": {"y": "independent"}}, "layer": [
                  {"data": {"name": "d_z4"}, "mark": {"type": "line", "color": "#10108a", "strokeWidth": 2, "interpolate": "monotone"},
                   "encoding": {
                     "x": {"field": "w", "type": "quantitative", "scale": {"domain": [0.4, 1.2], "nice": false, "zero": false}, "axis": {"values": [0.4,0.45,0.5,0.55,0.6,0.65,0.7,0.75,0.8,0.85,0.9,0.95,1.0,1.05,1.1,1.15,1.2], "format": ".1f", "labelPadding": 6, "labelExpr": "abs(datum.value*10 - round(datum.value*10)) < 0.01 ? datum.label : ''", "tickSize": {"condition": {"test": "abs(datum.value*10 - round(datum.value*10)) < 0.01", "value": 6}, "value": 4}, "title": null}},
                     "y": {"field": "s", "type": "quantitative", "scale": {"domain": [0, 0.00521], "nice": false, "zero": false}, "axis": {"values": [0,0.003], "format": ".3f", "labelFontSize": 15, "labelPadding": 3, "title": null}}
                   }},
                  {"data": {"values": [{"z": "z", "rest": "= 4 cm"}]}, "encoding": {"x": {"datum": 0.555}, "y": {"datum": 0.00248, "axis": {"orient": "left", "values": [0.0015,0.0045], "labels": false, "domain": false, "tickSize": 3, "title": null}}}, "layer": [
                    {"mark": {"type": "text", "fontStyle": "italic", "fontSize": 21}, "encoding": {"text": {"field": "z"}}},
                    {"mark": {"type": "text", "dx": 16.3, "fontSize": 21}, "encoding": {"text": {"field": "rest"}}}
                  ]}
                ]},
                {"width": 528, "height": 43.6, "resolve": {"axis": {"y": "independent"}}, "layer": [
                  {"data": {"name": "d_z5"}, "mark": {"type": "line", "color": "#10108a", "strokeWidth": 2, "interpolate": "monotone"},
                   "encoding": {
                     "x": {"field": "w", "type": "quantitative", "scale": {"domain": [0.4, 1.2], "nice": false, "zero": false}, "axis": {"values": [0.4,0.45,0.5,0.55,0.6,0.65,0.7,0.75,0.8,0.85,0.9,0.95,1.0,1.05,1.1,1.15,1.2], "format": ".1f", "labelExpr": "abs(datum.value*10 - round(datum.value*10)) < 0.01 ? datum.label : ''", "tickSize": {"condition": {"test": "abs(datum.value*10 - round(datum.value*10)) < 0.01", "value": 6}, "value": 4}, "labelFontSize": 18, "labelPadding": 5, "title": "Wavelength (μm)", "titleX": 263, "titleY": 34}},
                     "y": {"field": "s", "type": "quantitative", "scale": {"domain": [0, 0.00523], "nice": false, "zero": false}, "axis": {"values": [0,0.003], "format": ".3f", "labelFontSize": 15, "labelPadding": 3, "title": null}}
                   }},
                  {"data": {"values": [{"z": "z", "rest": "= 5 cm"}]}, "encoding": {"x": {"datum": 0.555}, "y": {"datum": 0.00244, "axis": {"orient": "left", "values": [0.0015,0.0045], "labels": false, "domain": false, "tickSize": 3, "title": null}}}, "layer": [
                    {"mark": {"type": "text", "fontStyle": "italic", "fontSize": 21}, "encoding": {"text": {"field": "z"}}},
                    {"mark": {"type": "text", "dx": 16.3, "fontSize": 21}, "encoding": {"text": {"field": "rest"}}}
                  ]}
                ]}
              ]
            }
          ]
        }
      ]
    }
  ],
  "spacing": 57
}
